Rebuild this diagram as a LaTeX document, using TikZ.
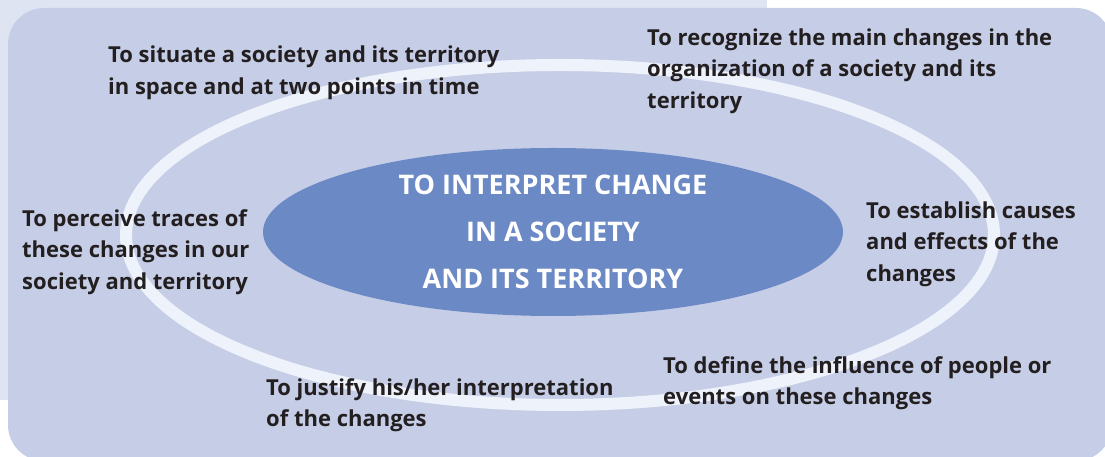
\documentclass[tikz,border=0pt]{standalone}
\usepackage{fontspec}
\setmainfont{Open Sans}
\usepackage{xcolor}
\usepackage{tikz}
\usetikzlibrary{positioning}

\definecolor{paleband}{RGB}{222,228,241}
\definecolor{panel}{RGB}{198,206,231}
\definecolor{ringline}{RGB}{238,242,250}
\definecolor{corefill}{RGB}{107,137,197}
\definecolor{inktext}{RGB}{35,31,32}

\begin{document}
\begin{tikzpicture}[x=1pt, y=1pt,
  goal/.style={anchor=west, align=left, inner sep=0pt, text=inktext,
    font=\bfseries\fontsize{22}{31.5}\selectfont},
  core/.style={align=center, inner sep=0pt, text=white,
    font=\bfseries\fontsize{27}{47}\selectfont}]
\useasboundingbox (0,0) rectangle (1105,457);
\clip (0,0) rectangle (1105,457);
% backdrop
\fill[paleband] (0,457) rectangle (767,57);
\fill[panel, rounded corners=36pt] (8,-4) rectangle (1112,449);
% ring and centre
\draw[ringline, line width=12pt] (560,222) ellipse [x radius=434, y radius=170];
\fill[corefill] (553,225) ellipse [x radius=290, y radius=84];
\node[core] (centre) at (553,225) {TO INTERPRET CHANGE\\IN A SOCIETY\\AND ITS TERRITORY};
% goals round the ring
\node[goal] (situate) at (108,384) {To situate a society and its territory\\in space and at two points in time};
\node[goal] (recognize) at (647,386) {To recognize the main changes in the\\organization of a society and its\\territory};
\node[goal] (perceive) at (22,205) {To perceive traces of\\these changes in our\\society and territory};
\node[goal] (establish) at (866,213) {To establish causes\\and effects of the\\changes};
\node[goal] (define) at (663,74) {To define the influence of people or\\events on these changes};
\node[goal] (justify) at (266,52) {To justify his/her interpretation\\of the changes};
\end{tikzpicture}
\end{document}
